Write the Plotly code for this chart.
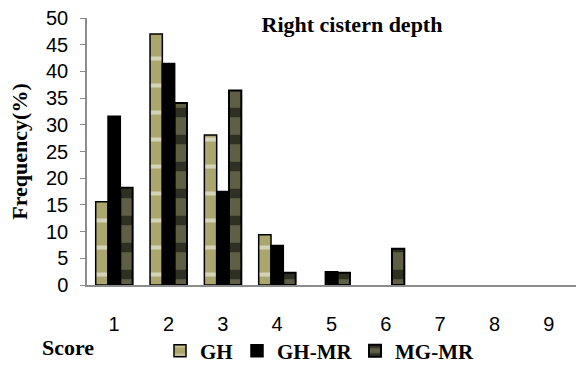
import plotly.graph_objects as go

scores = [1, 2, 3, 4, 5, 6, 7, 8, 9]
gh = [15.6, 47.0, 28.1, 9.4, 0, 0, 0, 0, 0]
gh_mr = [31.6, 41.5, 17.5, 7.4, 2.5, 0, 0, 0, 0]
mg_mr = [18.2, 34.1, 36.4, 2.3, 2.3, 6.8, 0, 0, 0]
y_ticks = [0, 5, 10, 15, 20, 25, 30, 35, 40, 45, 50]

serif = "Liberation Serif"
sans = "Liberation Sans"


def visible(vals):
    # zero-frequency scores have no visible bar in the reference
    return [v if v > 0 else None for v in vals]


fig = go.Figure()
fig.add_trace(go.Bar(
    x=scores, y=visible(gh), name="<b>GH</b>", legend="legend",
    marker=dict(color="#aaa66e", line=dict(color="black", width=1.5),
                pattern=dict(shape="-", fgcolor="white", bgcolor="#aaa66e",
                             size=27, solidity=0.15, fillmode="overlay")),
))
fig.add_trace(go.Bar(
    x=scores, y=visible(gh_mr), name="<b>GH-MR</b>", legend="legend2",
    marker=dict(color="black", line=dict(color="black", width=1.5)),
))
fig.add_trace(go.Bar(
    x=scores, y=visible(mg_mr), name="<b>MG-MR</b>", legend="legend3",
    marker=dict(color="#5f5f45", line=dict(color="black", width=2),
                pattern=dict(shape="-", fgcolor="black", bgcolor="#5f5f45",
                             size=27, solidity=0.35, fillmode="overlay")),
))

leg_y = (285 - 351) / 267
leg_common = dict(orientation="h", xanchor="left", y=leg_y, yanchor="middle",
                  font=dict(family=serif, size=21, color="black"),
                  bgcolor="rgba(0,0,0,0)", borderwidth=0)

fig.update_layout(
    width=576, height=365,
    margin=dict(l=87, r=0, t=18, b=80, autoexpand=False),
    paper_bgcolor="white", plot_bgcolor="white",
    barmode="group", bargap=0.32, bargroupgap=0,
    showlegend=True,
    legend=dict(x=(160 - 87) / 489, **leg_common),
    legend2=dict(x=(237 - 87) / 489, **leg_common),
    legend3=dict(x=(355 - 87) / 489, **leg_common),
    title=dict(text="<b>Right cistern depth</b>", x=352 / 576, xanchor="center",
               xref="container", y=1 - 24 / 365, yanchor="middle", yref="container",
               font=dict(family=serif, size=22, color="black")),
    xaxis=dict(range=[0.5, 9.5], tickmode="array", tickvals=scores,
               ticktext=[str(s) for s in scores], showgrid=False, zeroline=False,
               showline=True, linecolor="#8c8c8c", linewidth=1.5, ticks="",
               ticklabelstandoff=20, automargin=False,
               tickfont=dict(family=sans, size=20, color="black")),
    yaxis=dict(range=[0, 50], tickmode="array", tickvals=y_ticks, showgrid=False,
               zeroline=False, showline=True, linecolor="#8c8c8c", linewidth=1.5,
               ticks="outside", ticklen=5, tickcolor="#8c8c8c", tickwidth=1,
               ticklabelstandoff=8, automargin=False,
               tickfont=dict(family=sans, size=20, color="black"),
               title=dict(text="<b>Frequency(%)</b>", standoff=12,
                          font=dict(family=serif, size=22, color="black"))),
    annotations=[dict(text="<b>Score</b>", xref="paper", yref="paper",
                      x=(40 - 87) / 489, xanchor="left", y=(285 - 347) / 267,
                      yanchor="middle", showarrow=False,
                      font=dict(family=serif, size=22, color="black"))],
)

fig.write_html("out.html")
